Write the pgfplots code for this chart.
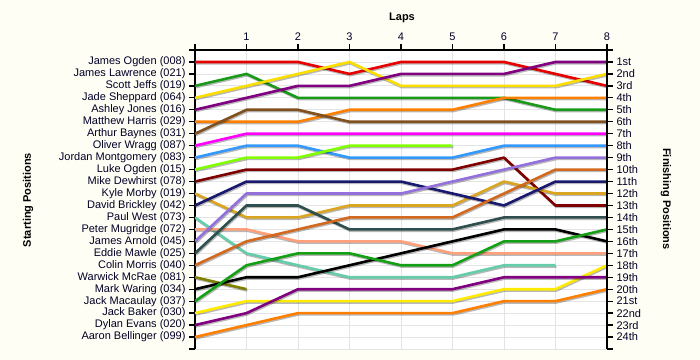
\documentclass[border=0pt]{standalone}
\usepackage{fontspec}
\setmainfont{Liberation Sans}
\usepackage{pgfplots}
\pgfplotsset{compat=1.18}
\definecolor{bgc}{RGB}{255,254,245}
\definecolor{gridc}{RGB}{228,228,228}
\definecolor{cA}{RGB}{230,0,0}
\definecolor{cB}{RGB}{25,155,25}
\definecolor{cC}{RGB}{250,222,0}
\definecolor{cD}{RGB}{128,0,128}
\definecolor{cE}{RGB}{255,128,0}
\definecolor{cF}{RGB}{128,80,30}
\definecolor{cG}{RGB}{255,0,255}
\definecolor{cH}{RGB}{51,153,255}
\definecolor{cI}{RGB}{128,255,0}
\definecolor{cJ}{RGB}{128,0,0}
\definecolor{cK}{RGB}{218,165,32}
\definecolor{cL}{RGB}{25,25,112}
\definecolor{cM}{RGB}{102,205,170}
\definecolor{cN}{RGB}{255,160,122}
\definecolor{cO}{RGB}{147,112,219}
\definecolor{cP}{RGB}{47,79,79}
\definecolor{cQ}{RGB}{210,105,30}
\definecolor{cR}{RGB}{128,128,0}
\definecolor{cS}{RGB}{0,0,0}
\definecolor{cT}{RGB}{20,160,20}
\definecolor{cU}{RGB}{255,235,0}
\definecolor{cV}{RGB}{128,0,128}
\definecolor{cW}{RGB}{255,128,0}
\begin{document}
\begin{tikzpicture}
\fill[bgc] (0bp,0bp) rectangle (700bp,360bp);
\begin{axis}[
  at={(195bp,11bp)}, anchor=south west,
  scale only axis, width=412bp, height=299bp,
  xmin=0, xmax=8, ymin=0, ymax=25, y dir=reverse,
  axis x line*=top, axis y line*=left,
  axis line style={-, black, line width=1.3bp},
  axis background/.style={fill=white},
  xtick={0,...,8}, xticklabels={,1,2,3,4,5,6,7,8},
  ytick={0,...,25},
  yticklabels={,James Ogden (008),James Lawrence (021),Scott Jeffs (019),Jade Sheppard (064),Ashley Jones (016),Matthew Harris (029),Arthur Baynes (031),Oliver Wragg (087),Jordan Montgomery (083),Luke Ogden (015),Mike Dewhirst (078),Kyle Morby (019),David Brickley (042),Paul West (073),Peter Mugridge (072),James Arnold (045),Eddie Mawle (025),Colin Morris (040),Warwick McRae (081),Mark Waring (034),Jack Macaulay (037),Jack Baker (030),Dylan Evans (020),Aaron Bellinger (099),},
  tick align=outside, major tick length=6bp,
  tick style={black, line width=1.3bp},
  grid=major, grid style={draw=gridc, line width=0.8bp},
  tick label style={font=\fontsize{11bp}{13bp}\selectfont, text=black!85!blue},
  every axis plot/.append style={line width=2.6bp, line join=round,
    preaction={draw=black, draw opacity=0.28, transform canvas={xshift=0.8bp, yshift=-1.3bp}}},
]
\addplot[cA] coordinates {(0,1)(1,1)(2,1)(3,2)(4,1)(5,1)(6,1)(7,2)(8,3)};
\addplot[cB] coordinates {(0,3)(1,2)(2,4)(3,4)(4,4)(5,4)(6,4)(7,5)(8,5)};
\addplot[cC] coordinates {(0,4)(1,3)(2,2)(3,1)(4,3)(5,3)(6,3)(7,3)(8,2)};
\addplot[cD] coordinates {(0,5)(1,4)(2,3)(3,3)(4,2)(5,2)(6,2)(7,1)(8,1)};
\addplot[cE] coordinates {(0,6)(1,6)(2,6)(3,5)(4,5)(5,5)(6,4)(7,4)(8,4)};
\addplot[cF] coordinates {(0,7)(1,5)(2,5)(3,6)(4,6)(5,6)(6,6)(7,6)(8,6)};
\addplot[cG] coordinates {(0,8)(1,7)(2,7)(3,7)(4,7)(5,7)(6,7)(7,7)(8,7)};
\addplot[cH] coordinates {(0,9)(1,8)(2,8)(3,9)(4,9)(5,9)(6,8)(7,8)(8,8)};
\addplot[cI] coordinates {(0,10)(1,9)(2,9)(3,8)(4,8)(5,8)};
\addplot[cJ] coordinates {(0,11)(1,10)(2,10)(3,10)(4,10)(5,10)(6,9)(7,13)(8,13)};
\addplot[cK] coordinates {(0,12)(1,14)(2,14)(3,13)(4,13)(5,13)(6,11)(7,12)(8,12)};
\addplot[cL] coordinates {(0,13)(1,11)(2,11)(3,11)(4,11)(5,12)(6,13)(7,11)(8,11)};
\addplot[cM] coordinates {(0,14)(1,17)(2,18)(3,19)(4,19)(5,19)(6,18)(7,18)};
\addplot[cN] coordinates {(0,15)(1,15)(2,16)(3,16)(4,16)(5,17)(6,17)(7,17)(8,17)};
\addplot[cO] coordinates {(0,16)(1,12)(2,12)(3,12)(4,12)(5,11)(6,10)(7,9)(8,9)};
\addplot[cP] coordinates {(0,17)(1,13)(2,13)(3,15)(4,15)(5,15)(6,14)(7,14)(8,14)};
\addplot[cQ] coordinates {(0,18)(1,16)(2,15)(3,14)(4,14)(5,14)(6,12)(7,10)(8,10)};
\addplot[cR] coordinates {(0,19)(1,20)};
\addplot[cS] coordinates {(0,20)(1,19)(2,19)(3,18)(4,17)(5,16)(6,15)(7,15)(8,16)};
\addplot[cT] coordinates {(0,21)(1,18)(2,17)(3,17)(4,18)(5,18)(6,16)(7,16)(8,15)};
\addplot[cU] coordinates {(0,22)(1,21)(2,21)(3,21)(4,21)(5,21)(6,20)(7,20)(8,18)};
\addplot[cV] coordinates {(0,23)(1,22)(2,20)(3,20)(4,20)(5,20)(6,19)(7,19)(8,19)};
\addplot[cW] coordinates {(0,24)(1,23)(2,22)(3,22)(4,22)(5,22)(6,21)(7,21)(8,20)};
\end{axis}
\begin{axis}[
  at={(195bp,11bp)}, anchor=south west,
  scale only axis, width=412bp, height=299bp,
  xmin=0, xmax=8, ymin=0, ymax=25, y dir=reverse,
  hide x axis, axis y line*=right,
  axis line style={-, black, line width=1.3bp},
  ytick={0,...,25},
  yticklabels={,1st,2nd,3rd,4th,5th,6th,7th,8th,9th,10th,11th,12th,13th,14th,15th,16th,17th,18th,19th,20th,21st,22nd,23rd,24th,},
  tick align=outside, major tick length=6bp,
  tick style={black, line width=1.3bp},
  tick label style={font=\fontsize{11bp}{13bp}\selectfont, text=black!85!blue},
]
\end{axis}
\node[font=\bfseries\fontsize{11bp}{13bp}\selectfont] at (402bp,342bp) {Laps};
\node[rotate=90, font=\bfseries\fontsize{11bp}{13bp}\selectfont] at (28bp,160bp) {Starting Positions};
\node[rotate=-90, font=\bfseries\fontsize{11bp}{13bp}\selectfont] at (666bp,161bp) {Finishing Positions};
\pgfresetboundingbox
\path[use as bounding box] (0bp,0bp) rectangle (700bp,360bp);
\end{tikzpicture}
\end{document}
